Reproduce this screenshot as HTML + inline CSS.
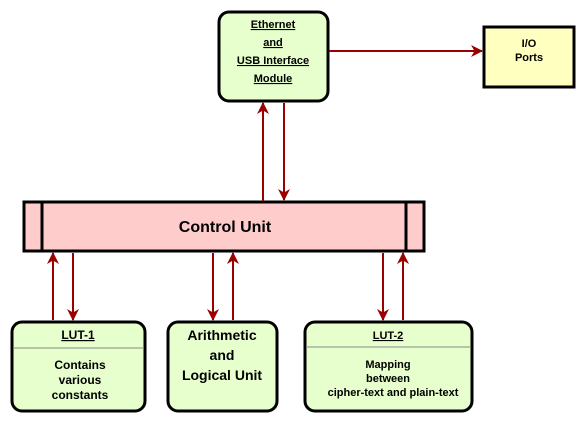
<!DOCTYPE html>
<html><head><style>
body{margin:0;background:#fff;width:585px;height:423px;overflow:hidden;font-family:"Liberation Sans",Arial,sans-serif;}
</style></head><body>
<svg width="585" height="423" viewBox="0 0 585 423" xmlns="http://www.w3.org/2000/svg" font-family="Liberation Sans, Arial, sans-serif" font-weight="bold">
<defs>
<marker id="a" markerWidth="12" markerHeight="12" refX="11" refY="6" orient="auto" markerUnits="userSpaceOnUse">
<path d="M0,0 L12,6 L0,12 L3.5,6 z" fill="#990000"/>
</marker>
</defs>
<rect x="219" y="12" width="109" height="89" rx="10" fill="#e6ffcc" stroke="#000" stroke-width="3"/>
<g font-size="11" text-anchor="middle" text-decoration="underline" fill="#000">
<text x="273" y="28">Ethernet</text>
<text x="273" y="46">and</text>
<text x="273" y="64">USB Interface</text>
<text x="273" y="82">Module</text>
</g>
<rect x="484" y="27" width="90" height="60" fill="#ffffc0" stroke="#000" stroke-width="3"/>
<text x="529" y="47" font-size="11" text-anchor="middle">I/O</text>
<text x="529" y="61" font-size="11" text-anchor="middle">Ports</text>
<rect x="24" y="202" width="400" height="49" fill="#ffcccc" stroke="#000" stroke-width="3"/>
<line x1="42" y1="202" x2="42" y2="251" stroke="#000" stroke-width="3"/>
<line x1="406" y1="202" x2="406" y2="251" stroke="#000" stroke-width="3"/>
<text x="225" y="232" font-size="16" text-anchor="middle">Control Unit</text>
<rect x="12" y="322" width="133" height="89" rx="10" fill="#e6ffcc" stroke="#000" stroke-width="3"/>
<line x1="13" y1="348" x2="144" y2="348" stroke="#888" stroke-width="1"/>
<text x="78" y="339" font-size="12" text-anchor="middle" text-decoration="underline">LUT-1</text>
<text x="80" y="369" font-size="12" text-anchor="middle">Contains</text>
<text x="80" y="384" font-size="12" text-anchor="middle">various</text>
<text x="80" y="399" font-size="12" text-anchor="middle">constants</text>
<rect x="168" y="322" width="109" height="89" rx="10" fill="#e6ffcc" stroke="#000" stroke-width="3"/>
<text x="222" y="340" font-size="14" text-anchor="middle">Arithmetic</text>
<text x="222" y="360" font-size="14" text-anchor="middle">and</text>
<text x="222" y="380" font-size="14" text-anchor="middle">Logical Unit</text>
<rect x="305" y="322" width="167" height="89" rx="10" fill="#e6ffcc" stroke="#000" stroke-width="3"/>
<line x1="306" y1="347" x2="471" y2="347" stroke="#888" stroke-width="1"/>
<text x="388" y="339" font-size="11" text-anchor="middle" text-decoration="underline">LUT-2</text>
<text x="388" y="368" font-size="11" text-anchor="middle">Mapping</text>
<text x="388" y="382" font-size="11" text-anchor="middle">between</text>
<text x="393" y="396" font-size="11" text-anchor="middle">cipher-text and plain-text</text>
<g stroke="#990000" stroke-width="2" fill="none" marker-end="url(#a)">
<line x1="329" y1="51" x2="482" y2="51"/>
<line x1="263" y1="201" x2="263" y2="103"/>
<line x1="284" y1="103" x2="284" y2="200"/>
<line x1="53" y1="320" x2="53" y2="253"/>
<line x1="73" y1="253" x2="73" y2="320"/>
<line x1="213" y1="253" x2="213" y2="320"/>
<line x1="233" y1="320" x2="233" y2="253"/>
<line x1="383" y1="253" x2="383" y2="320"/>
<line x1="403" y1="320" x2="403" y2="253"/>
</g>
</svg>
</body></html>
